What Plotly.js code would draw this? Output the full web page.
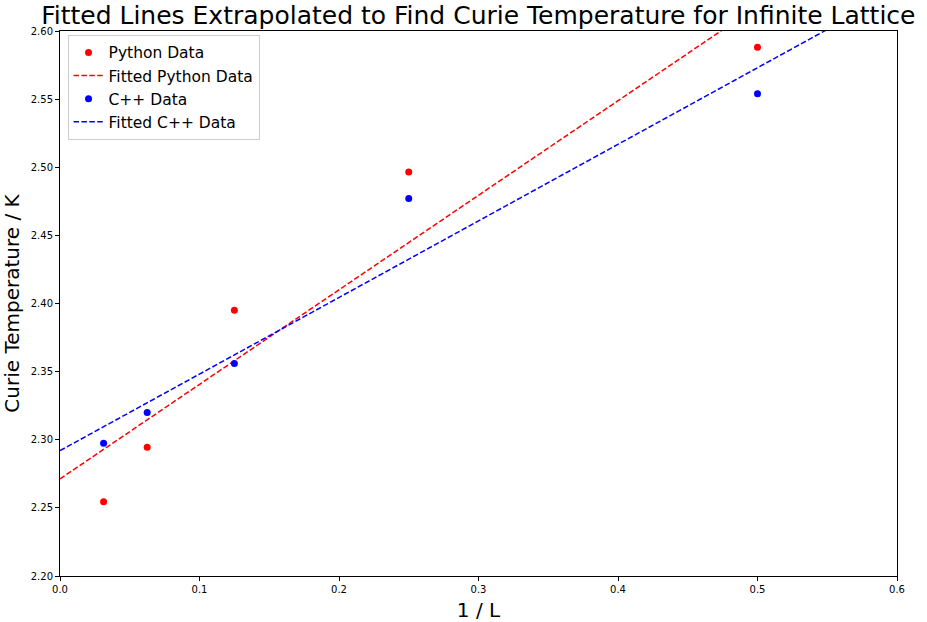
<!DOCTYPE html>
<html>
<head>
<meta charset="utf-8">
<script src="https://cdn.plot.ly/plotly-3.0.1.min.js"></script>
<style>html,body{margin:0;padding:0;background:#fff;}#chart{width:927px;height:622px;}</style>
</head>
<body>
<div id="chart"></div>
<script>
const invL = [0.03125, 0.0625, 0.125, 0.25, 0.5];
const pythonTc = [2.2545, 2.2945, 2.395, 2.4965, 2.588];
const cppTc = [2.2975, 2.3200, 2.356, 2.477, 2.554];
const fitX = [0, 0.6];
const xTicks = [0.0, 0.1, 0.2, 0.3, 0.4, 0.5, 0.6];
const yTicks = [2.20, 2.25, 2.30, 2.35, 2.40, 2.45, 2.50, 2.55, 2.60];

function linfit(x, y) {
  const n = x.length;
  const mx = x.reduce((a, b) => a + b, 0) / n;
  const my = y.reduce((a, b) => a + b, 0) / n;
  let sxy = 0, sxx = 0;
  for (let i = 0; i < n; i++) { sxy += (x[i] - mx) * (y[i] - my); sxx += (x[i] - mx) ** 2; }
  const m = sxy / sxx;
  return { m: m, c: my - m * mx };
}
const pf = linfit(invL, pythonTc);
const cf = linfit(invL, cppTc);

const traces = [
  { x: invL, y: pythonTc, mode: 'markers', name: 'Python Data', marker: { color: '#ff0000', size: 7 } },
  { x: fitX, y: fitX.map(v => pf.c + pf.m * v), mode: 'lines', name: 'Fitted Python Data', line: { color: '#ff0000', dash: '5.5px,2.4px', width: 1.5 } },
  { x: invL, y: cppTc, mode: 'markers', name: 'C++ Data', marker: { color: '#0000ff', size: 7 } },
  { x: fitX, y: fitX.map(v => cf.c + cf.m * v), mode: 'lines', name: 'Fitted C++ Data', line: { color: '#0000ff', dash: '5.5px,2.4px', width: 1.5 } }
];

const axisCommon = {
  showgrid: false, zeroline: false, showline: true, mirror: true,
  linecolor: '#000', linewidth: 1, ticks: 'outside', ticklen: 4, tickcolor: '#000',
  tickfont: { family: 'DejaVu Sans', size: 10, color: '#000' }
};

const layout = {
  width: 927, height: 622,
  margin: { l: 60, r: 30, t: 31, b: 46 },
  paper_bgcolor: '#fff', plot_bgcolor: '#fff',
  font: { family: 'DejaVu Sans', color: '#000' },
  title: { text: 'Fitted Lines Extrapolated to Find Curie Temperature for Infinite Lattice', font: { family: 'DejaVu Sans', size: 25, color: '#000' }, x: 0.516, xanchor: 'center', y: 0.976, yanchor: 'middle' },
  xaxis: Object.assign({}, axisCommon, { range: [0, 0.6], tickvals: xTicks, ticktext: xTicks.map(v => v.toFixed(1)), title: { text: '1 / L', font: { family: 'DejaVu Sans', size: 20 }, standoff: 8 } }),
  yaxis: Object.assign({}, axisCommon, { range: [2.2, 2.6], tickvals: yTicks, ticktext: yTicks.map(v => v.toFixed(2)), title: { text: 'Curie Temperature / K', font: { family: 'DejaVu Sans', size: 20 }, standoff: 7 } }),
  legend: { x: 0.009, y: 0.993, xanchor: 'left', yanchor: 'top', bgcolor: 'rgba(255,255,255,0.8)', bordercolor: '#cccccc', borderwidth: 1, itemwidth: 30, font: { family: 'DejaVu Sans', size: 15.5, color: '#000' }, tracegroupgap: 0 },
  showlegend: true
};

Plotly.newPlot('chart', traces, layout, { displayModeBar: false });
</script>
</body>
</html>
